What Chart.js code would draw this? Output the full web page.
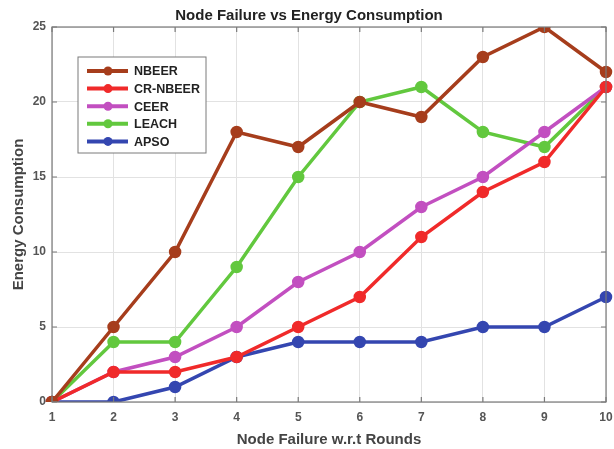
<!DOCTYPE html>
<html>
<head>
<meta charset="utf-8">
<script src="https://cdn.jsdelivr.net/npm/chart.js@4.4.0/dist/chart.umd.min.js"></script>
<style>
  html, body { margin: 0; padding: 0; background: #fff; }
  #wrap { width: 614px; height: 449px; }
</style>
</head>
<body>
<div id="wrap"><canvas id="c"></canvas></div>
<script>
// rounds on the x axis
const rounds = ['1', '2', '3', '4', '5', '6', '7', '8', '9', '10'];

// energy consumption per protocol
const nbeer   = [0, 5, 10, 18, 17, 20, 19, 23, 25, 22];
const crNbeer = [0, 2, 2, 3, 5, 7, 11, 14, 16, 21];
const ceer    = [0, 2, 3, 5, 8, 10, 13, 15, 18, 21];
const leach   = [0, 4, 4, 9, 15, 20, 21, 18, 17, 21];
const apso    = [0, 0, 1, 3, 4, 4, 4, 5, 5, 7];

const yTicks = [0, 5, 10, 15, 20, 25];

const FONT = '"Liberation Sans", Arial, sans-serif';

const mkSet = (label, data, color) => ({
    label, data,
    borderColor: color,
    backgroundColor: color,
    borderWidth: 3.5,
    pointRadius: 4.5,
    pointHoverRadius: 4.5,
    tension: 0
});

// box around the plot + inward ticks, matlab style
const frame = {
    id: 'frame',
    afterDraw(chart) {
        const { ctx, chartArea: a, scales } = chart;
        ctx.save();
        ctx.strokeStyle = '#7a7a7a';
        ctx.lineWidth = 1.2;
        ctx.strokeRect(a.left, a.top, a.right - a.left, a.bottom - a.top);
        ctx.beginPath();
        rounds.forEach((r, i) => {
            const x = scales.x.getPixelForValue(i);
            ctx.moveTo(x, a.bottom); ctx.lineTo(x, a.bottom - 5);
            ctx.moveTo(x, a.top); ctx.lineTo(x, a.top + 5);
        });
        yTicks.forEach(v => {
            const y = scales.y.getPixelForValue(v);
            ctx.moveTo(a.left, y); ctx.lineTo(a.left + 5, y);
            ctx.moveTo(a.right, y); ctx.lineTo(a.right - 5, y);
        });
        ctx.stroke();
        ctx.restore();
    }
};

// legend box drawn inside the plot area
const insideLegend = {
    id: 'insideLegend',
    afterDraw(chart) {
        const { ctx } = chart;
        const x0 = 78, y0 = 57, w = 128, h = 96;
        ctx.save();
        ctx.fillStyle = '#fff';
        ctx.fillRect(x0, y0, w, h);
        ctx.strokeStyle = '#7a7a7a';
        ctx.lineWidth = 1;
        ctx.strokeRect(x0, y0, w, h);
        ctx.font = 'bold 12.5px ' + FONT;
        ctx.textBaseline = 'middle';
        chart.data.datasets.forEach((ds, i) => {
            const y = y0 + 14 + i * 17.6;
            ctx.strokeStyle = ds.borderColor;
            ctx.lineWidth = 4;
            ctx.beginPath();
            ctx.moveTo(x0 + 9, y); ctx.lineTo(x0 + 50, y);
            ctx.stroke();
            ctx.fillStyle = ds.borderColor;
            ctx.beginPath();
            ctx.arc(x0 + 30, y, 4.5, 0, Math.PI * 2);
            ctx.fill();
            ctx.fillStyle = '#222';
            ctx.fillText(ds.label, x0 + 56, y + 1);
        });
        ctx.restore();
    }
};

new Chart(document.getElementById('c'), {
    type: 'line',
    data: {
        labels: rounds,
        datasets: [
            mkSet('NBEER', nbeer, '#a63d1c'),
            mkSet('CR-NBEER', crNbeer, '#f02a2a'),
            mkSet('CEER', ceer, '#c24fc0'),
            mkSet('LEACH', leach, '#62c83e'),
            mkSet('APSO', apso, '#3446b0')
        ]
    },
    options: {
        responsive: true,
        maintainAspectRatio: false,
        animation: false,
        layout: { padding: { left: 10, right: 6, top: 0, bottom: 0 } },
        plugins: {
            legend: { display: false },
            tooltip: { enabled: false },
            title: {
                display: true,
                text: 'Node Failure vs Energy Consumption',
                color: '#222',
                font: { family: FONT, size: 15, weight: 'bold' },
                padding: { top: 7, bottom: 2 }
            }
        },
        scales: {
            x: {
                offset: false,
                grid: { color: '#e2e2e2', drawTicks: false },
                border: { display: false },
                ticks: {
                    color: '#555',
                    padding: 8,
                    maxRotation: 0,
                    font: { family: FONT, size: 12, weight: 'bold' }
                },
                title: {
                    display: true,
                    text: 'Node Failure w.r.t Rounds',
                    color: '#444',
                    padding: { top: 5, bottom: 0 },
                    font: { family: FONT, size: 15, weight: 'bold' }
                },
                afterFit: s => { s.height = 47; s.paddingLeft = 0; s.paddingRight = 0; }
            },
            y: {
                min: 0, max: 25,
                grid: { color: '#e2e2e2', drawTicks: false },
                border: { display: false },
                afterBuildTicks: s => { s.ticks = yTicks.map(v => ({ value: v })); },
                ticks: {
                    color: '#555',
                    padding: 6,
                    font: { family: FONT, size: 12, weight: 'bold' }
                },
                title: {
                    display: true,
                    text: 'Energy Consumption',
                    color: '#444',
                    padding: { top: 0, bottom: 0 },
                    font: { family: FONT, size: 15, weight: 'bold' }
                },
                afterFit: s => { s.width = 42; s.paddingTop = 0; s.paddingBottom = 0; }
            }
        }
    },
    plugins: [frame, insideLegend]
});
</script>
</body>
</html>
